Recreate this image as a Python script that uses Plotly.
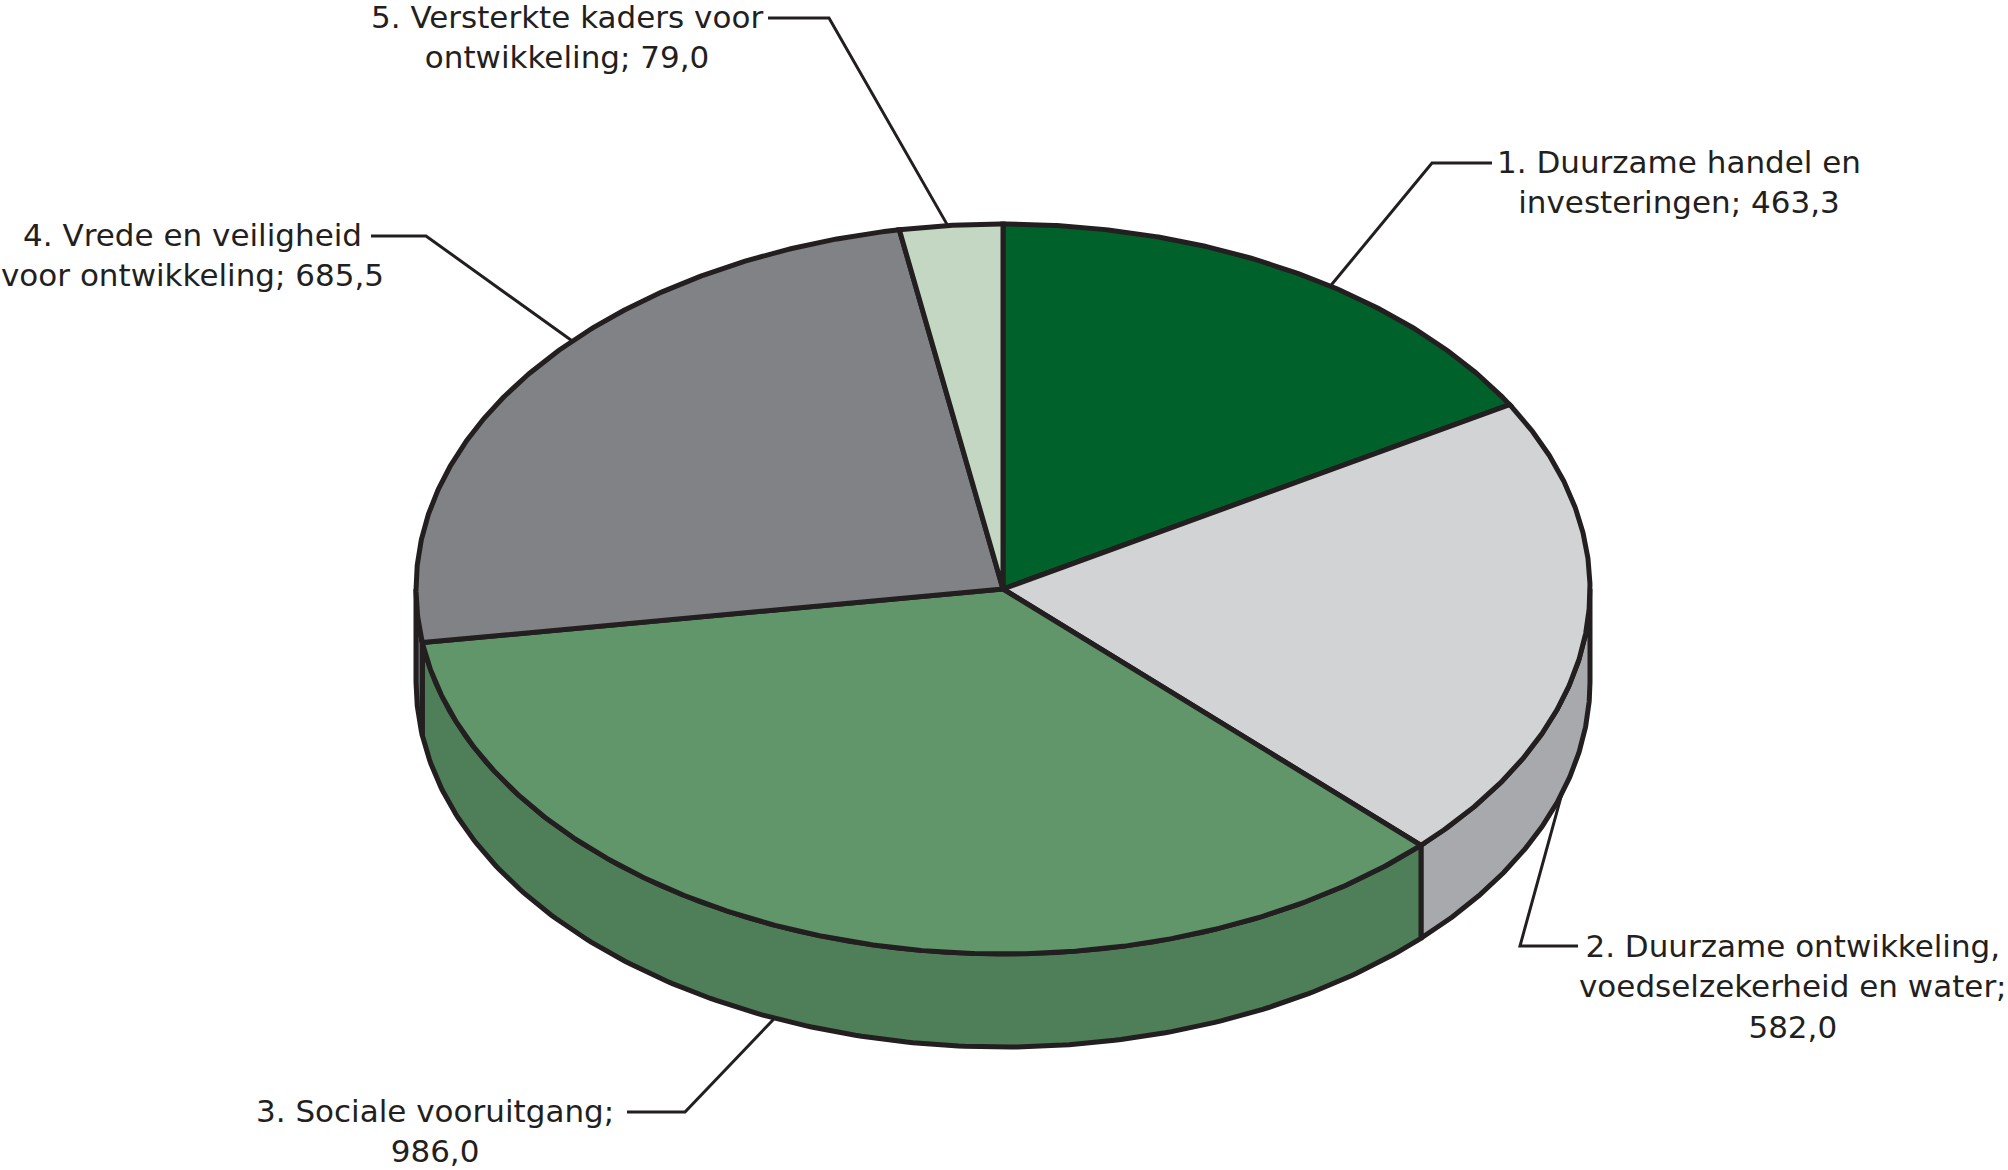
import numpy as np
import plotly.graph_objects as go

# Budget per policy theme
labels = [
    "1. Duurzame handel en<br>investeringen; 463,3",
    "2. Duurzame ontwikkeling,<br>voedselzekerheid en water;<br>582,0",
    "3. Sociale vooruitgang;<br>986,0",
    "4. Vrede en veiligheid<br>voor ontwikkeling; 685,5",
    "5. Versterkte kaders voor<br>ontwikkeling; 79,0",
]
values = [463.3, 582.0, 986.0, 685.5, 79.0]

top_colors = ["#00622a", "#d1d3d4", "#61956a", "#808285", "#c3d7c3"]
side_colors = ["#004a1f", "#a7a9ac", "#4f7f58", "#6a6b6e", "#9fb59f"]
ink = "#231f20"

# Projected disc geometry (pixels on a 2008 x 1170 canvas)
W, H = 2008, 1170
cx, cy = 1003, 589
rx, ry = 587, 365
depth = 93

# Leader layout: angle on the rim where the leader touches, whether it meets the
# lower rim, the elbow, the end of the horizontal stub and the label centre
leader_angle = [33.9, 107.8, 202.9, 312.8, 354.6]
leader_lower = [False, True, True, False, False]
leader_elbow = [(1432, 163), (1520, 946), (685, 1112), (426, 236), (829, 18)]
leader_stub = [(1492, 163), (1578, 946), (627, 1112), (371, 236), (768, 18)]
label_pos = [(1679, 182), (1793, 986), (435, 1131), (192, 255), (567, 37)]


def rim(theta_deg, drop=0.0):
    t = np.radians(theta_deg)
    return cx + rx * np.sin(t), cy - ry * np.cos(t) + drop


total = float(sum(values))
bounds = np.concatenate([[0.0], np.cumsum(values) / total * 360.0])

fig = go.Figure()

# Visible side walls (front half of the disc, 90..270 degrees clockwise from top)
for i in range(len(values)):
    a0, a1 = bounds[i], bounds[i + 1]
    s, e = max(a0, 90.0), min(a1, 270.0)
    if e <= s:
        continue
    th = np.linspace(s, e, 200)
    xt, yt = rim(th)
    xb, yb = rim(th[::-1], depth)
    xs = np.concatenate([xt, xb, [xt[0]]])
    ys = np.concatenate([yt, yb, [yt[0]]])
    fig.add_trace(go.Scatter(
        x=xs, y=ys, mode="lines", fill="toself", fillcolor=side_colors[i],
        line=dict(color=ink, width=5), hoverinfo="skip", showlegend=False))

# Top faces of the slices
for i in range(len(values)):
    a0, a1 = bounds[i], bounds[i + 1]
    th = np.linspace(a0, a1, max(30, int((a1 - a0) * 4)))
    xa, ya = rim(th)
    xs = np.concatenate([[cx], xa, [cx]])
    ys = np.concatenate([[cy], ya, [cy]])
    fig.add_trace(go.Scatter(
        x=xs, y=ys, mode="lines", fill="toself", fillcolor=top_colors[i],
        line=dict(color=ink, width=5), hoverinfo="skip", showlegend=False))

# Leader lines and labels
for i in range(len(values)):
    px, py = rim(leader_angle[i], depth if leader_lower[i] else 0.0)
    ex, ey = leader_elbow[i]
    sx, sy = leader_stub[i]
    fig.add_trace(go.Scatter(
        x=[px, ex, sx], y=[py, ey, sy], mode="lines",
        line=dict(color=ink, width=3), hoverinfo="skip", showlegend=False))
    lx, ly = label_pos[i]
    fig.add_annotation(
        x=lx, y=ly, xref="x", yref="y", text=labels[i], showarrow=False,
        xanchor="center", yanchor="middle", align="center",
        font=dict(family="DejaVu Sans", size=31, color=ink))

fig.update_layout(
    width=W, height=H,
    margin=dict(l=0, r=0, t=0, b=0),
    paper_bgcolor="white", plot_bgcolor="white",
    xaxis=dict(range=[0, W], visible=False, fixedrange=True),
    yaxis=dict(range=[H, 0], visible=False, fixedrange=True),
    showlegend=False,
)

fig.write_html("out.html")
